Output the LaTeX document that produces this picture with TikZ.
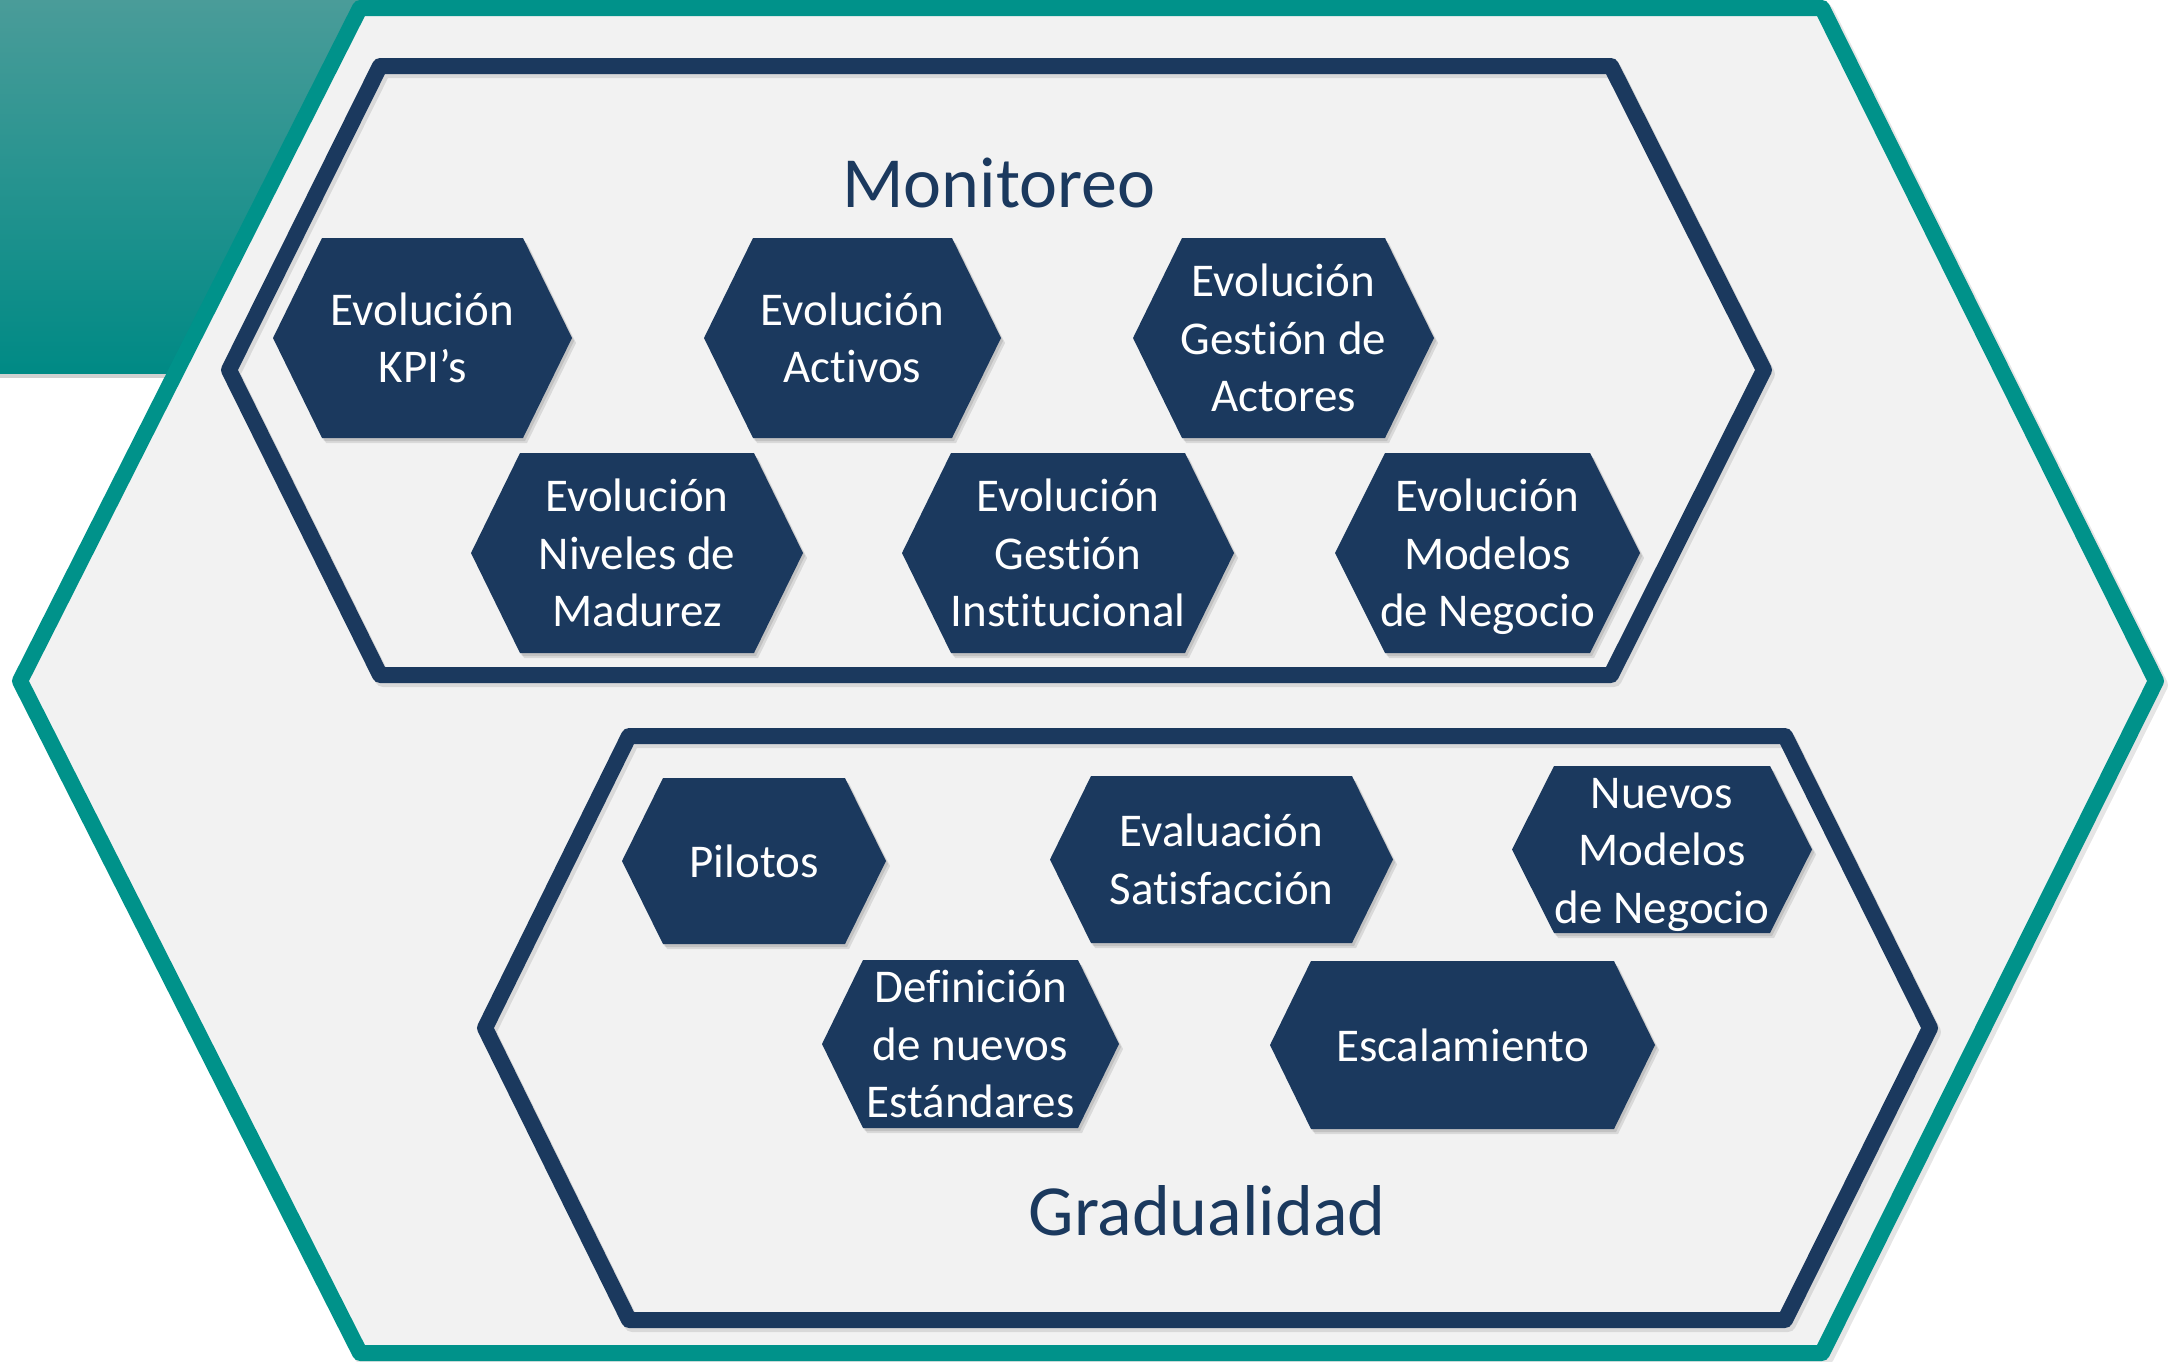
\documentclass[tikz,border=0pt]{standalone}
\usepackage{fontspec}
\setmainfont{Carlito}[Ligatures=NoCommon]
\definecolor{navy}{HTML}{1B395E}
\definecolor{tealline}{HTML}{00928A}
\definecolor{bgfill}{HTML}{F2F2F2}
\definecolor{tealtop}{HTML}{4A9C99}
\definecolor{tealbot}{HTML}{008A85}
\newcommand\hxtop{\rule{0pt}{44pt}}
\newcommand\hxbot{\rule[-12pt]{0pt}{12pt}}
\tikzset{
  hextext/.style={text=white, align=center, inner sep=0pt, font=\fontsize{47}{57.5}\selectfont},
  ttl/.style={text=navy, inner sep=0pt, anchor=base, font=\fontsize{72}{86}\selectfont},
  hexfill/.style={fill=navy},
  shadefill/.style={fill=black, opacity=0.10},
  framebig/.style={draw=tealline, fill=bgfill, line width=16pt, line join=round},
  frameinner/.style={draw=navy, line width=16pt, line join=round},
  frameshadow/.style={draw=black, opacity=0.10, line width=16pt, line join=round},
}
% name, left, right, top, bottom, inset, text
\newcommand\hexnode[7]{%
  \fill[shadefill] (#2+2,{(#4+#5)/2+3}) -- (#2+#6+2,#4+3) -- (#3-#6+2,#4+3) -- (#3+2,{(#4+#5)/2+3}) -- (#3-#6+2,#5+3) -- (#2+#6+2,#5+3) -- cycle;
  \fill[shadefill] (#2+4,{(#4+#5)/2+5}) -- (#2+#6+4,#4+5) -- (#3-#6+4,#4+5) -- (#3+4,{(#4+#5)/2+5}) -- (#3-#6+4,#5+5) -- (#2+#6+4,#5+5) -- cycle;
  \fill[hexfill] (#2,{(#4+#5)/2}) -- (#2+#6,#4) -- (#3-#6,#4) -- (#3,{(#4+#5)/2}) -- (#3-#6,#5) -- (#2+#6,#5) -- cycle;
  \node[hextext] (#1) at ({(#2+#3)/2},{(#4+#5)/2}) {\hxtop #7\hxbot};
}
\begin{document}
\begin{tikzpicture}[x=1pt,y=-1pt]
\useasboundingbox (0,0) rectangle (2172,1361);
\fill[white] (0,0) rectangle (2172,1361);
% teal corner block
\fill[black,opacity=0.18] (0,373) rectangle (700,378);
\shade[top color=tealtop, bottom color=tealbot] (0,0) rectangle (700,373);
% outer hexagon
\draw[frameshadow] (363,12) -- (1826,12) -- (2160,685) -- (1826,1357) -- (363,1357) -- (23,685) -- cycle;
\draw[framebig] (360,8) -- (1822,8) -- (2156,681) -- (1822,1353) -- (360,1353) -- (20,681) -- cycle;
% inner hexagons
\draw[frameshadow] (383,70) -- (1614,70) -- (1767,374) -- (1614,679) -- (383,679) -- (232,374) -- cycle;
\draw[frameinner] (380,66) -- (1611,66) -- (1764,370) -- (1611,675) -- (380,675) -- (229,370) -- cycle;
\draw[frameshadow] (632,740) -- (1788,740) -- (1933,1032) -- (1788,1324) -- (632,1324) -- (488,1032) -- cycle;
\draw[frameinner] (629,736) -- (1785,736) -- (1930,1028) -- (1785,1320) -- (629,1320) -- (485,1028) -- cycle;
% titles
\node[ttl] (mon) at (999,207) {Monitoreo};
\node[ttl] (grad) at (1207,1235) {Gradualidad};
% small hexagons - Monitoreo
\hexnode{kpi}{273}{572}{238}{438}{49}{Evolución\\KPI’s}
\hexnode{act}{704}{1001}{238}{438}{49}{Evolución\\Activos}
\hexnode{acto}{1133}{1434}{238}{438}{49}{Evolución\\Gestión de\\Actores}
\hexnode{niv}{471}{803}{453}{653}{49}{Evolución\\Niveles de\\Madurez}
\hexnode{inst}{902}{1234}{453}{653}{49}{Evolución\\Gestión\\Institucional}
\hexnode{mod}{1335}{1640}{453}{653}{50}{Evolución\\Modelos\\de Negocio}
% small hexagons - Gradualidad
\hexnode{pil}{622}{886}{778}{944}{41}{Pilotos}
\hexnode{eval}{1050}{1393}{776}{943}{41}{Evaluación\\Satisfacción}
\hexnode{nue}{1512}{1812}{766}{933}{42}{Nuevos\\Modelos\\de Negocio}
\hexnode{defi}{822}{1119}{960}{1128}{41}{Definición\\de nuevos\\Estándares}
\hexnode{esc}{1270}{1655}{961}{1129}{41}{Escalamiento}
\end{tikzpicture}
\end{document}
